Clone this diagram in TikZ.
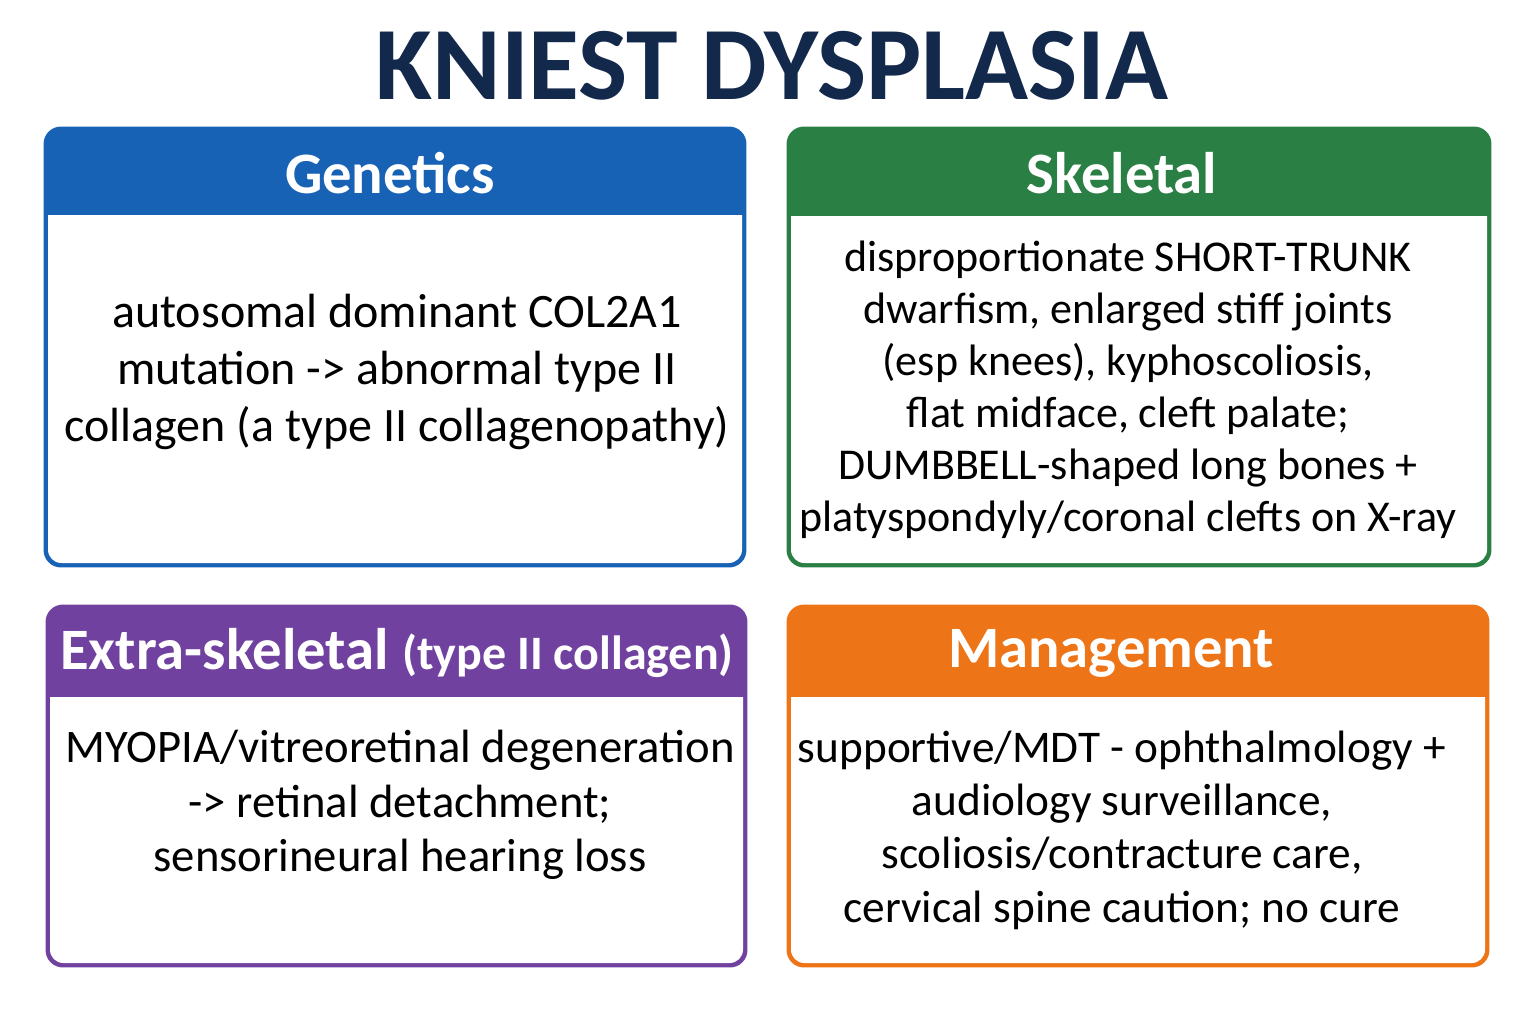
\documentclass[tikz,border=0pt]{standalone}
\usepackage{fontspec}
\setmainfont{Carlito}
\usetikzlibrary{positioning}
\definecolor{navy}{HTML}{13294B}
\definecolor{genblue}{HTML}{1862B5}
\definecolor{skelgreen}{HTML}{2A7F45}
\definecolor{extpurple}{HTML}{7141A0}
\definecolor{mgtorange}{HTML}{EE7418}
\begin{document}
\begin{tikzpicture}[x=0.75pt,y=-0.75pt,
    frame/.style={line width=2.2pt, rounded corners=12pt},
    header/.style={text=white, font=\bfseries\fontsize{44}{50}\selectfont},
    body/.style={align=center, text=black, font=\fontsize{36}{43}\selectfont}
    ]
\useasboundingbox (0,0) rectangle (1536,1024);

% Title
\node[text=navy, font=\bfseries\fontsize{78}{80}\selectfont] (title) at (772,66) {KNIEST DYSPLASIA};

% Genetics
\fill[genblue, rounded corners=12pt] (45,128) rectangle (745,566);
\fill[white] (48,215) -- (742,215) [rounded corners=10pt] -- (742,563) -- (48,563) [sharp corners] -- cycle;
\draw[genblue, frame] (45,128) rectangle (745,566);
\node[header] (gen head) at (390,173) {Genetics};
\node[body] (gen body) at (397,372) {autosomal dominant COL2A1\\mutation -> abnormal type II\\collagen (a type II collagenopathy)};

% Skeletal
\fill[skelgreen, rounded corners=12pt] (788,128) rectangle (1490,566);
\fill[white] (791,216) -- (1487,216) [rounded corners=10pt] -- (1487,563) -- (791,563) [sharp corners] -- cycle;
\draw[skelgreen, frame] (788,128) rectangle (1490,566);
\node[header] (skel head) at (1122,173) {Skeletal};
\node[body, font=\fontsize{33}{39}\selectfont] (skel body) at (1128,390) {disproportionate SHORT-TRUNK\\dwarfism, enlarged stiff joints\\(esp knees), kyphoscoliosis,\\flat midface, cleft palate;\\DUMBBELL-shaped long bones +\\platyspondyly/coronal clefts on X-ray};

% Extra-skeletal
\fill[extpurple, rounded corners=12pt] (47,606) rectangle (746,966);
\fill[white] (50,697) -- (743,697) [rounded corners=10pt] -- (743,963) -- (50,963) [sharp corners] -- cycle;
\draw[extpurple, frame] (47,606) rectangle (746,966);
\node[header] (ext head) at (397,653) {Extra-skeletal {\fontsize{36}{40}\selectfont(type II collagen)}};
\node[body, font=\fontsize{35}{41}\selectfont] (ext body) at (400,805) {MYOPIA/vitreoretinal degeneration\\-> retinal detachment;\\sensorineural hearing loss};

% Management
\fill[mgtorange, rounded corners=12pt] (788,606) rectangle (1488,966);
\fill[white] (791,697) -- (1485,697) [rounded corners=10pt] -- (1485,963) -- (791,963) [sharp corners] -- cycle;
\draw[mgtorange, frame] (788,606) rectangle (1488,966);
\node[header] (mgt head) at (1111,653) {Management};
\node[body, font=\fontsize{34}{40}\selectfont] (mgt body) at (1122,830) {supportive/MDT - ophthalmology +\\audiology surveillance,\\scoliosis/contracture care,\\cervical spine caution; no cure};

\end{tikzpicture}
\end{document}
